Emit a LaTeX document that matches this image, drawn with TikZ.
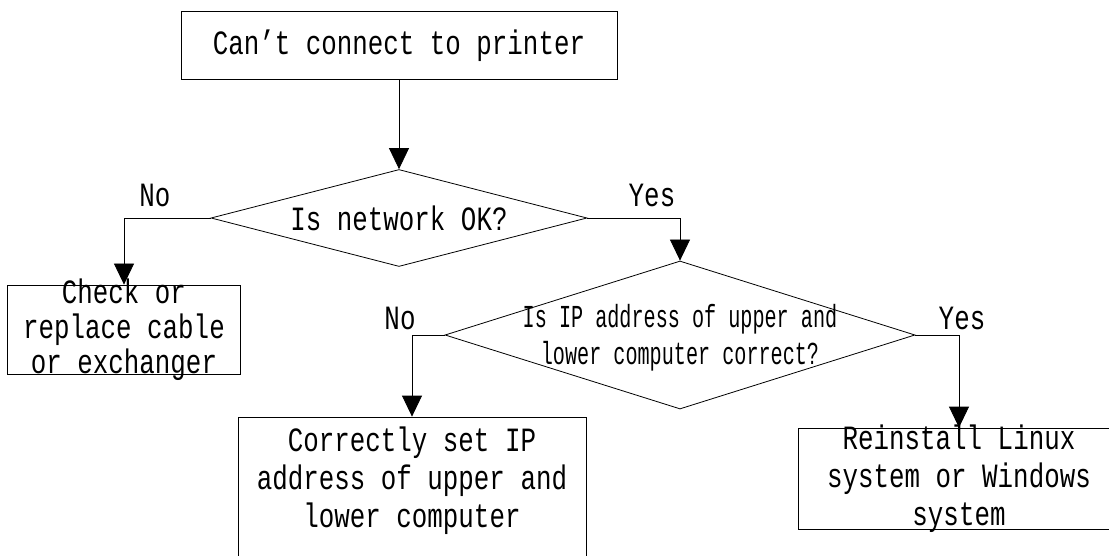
\documentclass[tikz,border=0pt]{standalone}
\usepackage{fontspec}
\setmainfont[FakeStretch=0.76]{Liberation Mono}
\newfontfamily\narrowmono[FakeStretch=0.63]{Liberation Mono}
\usetikzlibrary{arrows.meta,shapes.geometric}

\begin{document}
\begin{tikzpicture}[x=1pt, y=-1pt,
  font=\fontsize{34}{38}\selectfont,
  box/.style={draw, line width=0.8pt, inner sep=0pt},
  dec/.style={draw, diamond, line width=0.8pt, inner sep=0pt},
  txt/.style={align=center, inner sep=0pt},
  arr/.style={-{Triangle[length=21pt, width=20pt]}, line width=0.8pt}]
\useasboundingbox (0,0) rectangle (1109,556);
% shapes
\node[box, minimum width=436pt, minimum height=68pt] (start) at (399,45.5) {};
\node[dec, minimum width=376pt, minimum height=97pt] (net) at (399,218) {};
\node[box, minimum width=233pt, minimum height=89pt] (cable) at (124,329.5) {};
\node[dec, minimum width=470pt, minimum height=148pt] (ip) at (680,335) {};
\node[box, minimum width=348pt, minimum height=146pt] (setip) at (412,490) {};
\node[box, minimum width=322pt, minimum height=101pt] (reinst) at (959,478.5) {};
% texts
\node[txt] (tstart) at (start) {Can’t connect to printer};
\node[txt] (tnet) at (net) {Is network OK?};
\node[txt, font=\fontsize{34}{35}\selectfont] (tcable) at (cable) {Check or\\ replace cable\\ or exchanger};
\node[txt, font=\narrowmono\fontsize{32}{37}\selectfont] (tip) at (680,338) {Is IP address of upper and\\ lower computer correct?};
\node[txt] (tsetip) at (412,481) {Correctly set IP\\ address of upper and\\ lower computer};
\node[txt] (treinst) at (reinst) {Reinstall Linux\\ system or Windows\\ system};
% branch labels
\node[txt] (no1) at (155,195) {No};
\node[txt] (yes1) at (652,195) {Yes};
\node[txt] (no2) at (400,318) {No};
\node[txt] (yes2) at (962,318) {Yes};
% connectors
\draw[arr] (start) -- (net);
\draw[arr] (net.west) -| (cable.north);
\draw[arr] (net.east) -| (ip.north);
\draw[arr] (ip.west) -| (setip.north);
\draw[arr] (ip.east) -| (reinst.north);
\end{tikzpicture}
\end{document}
